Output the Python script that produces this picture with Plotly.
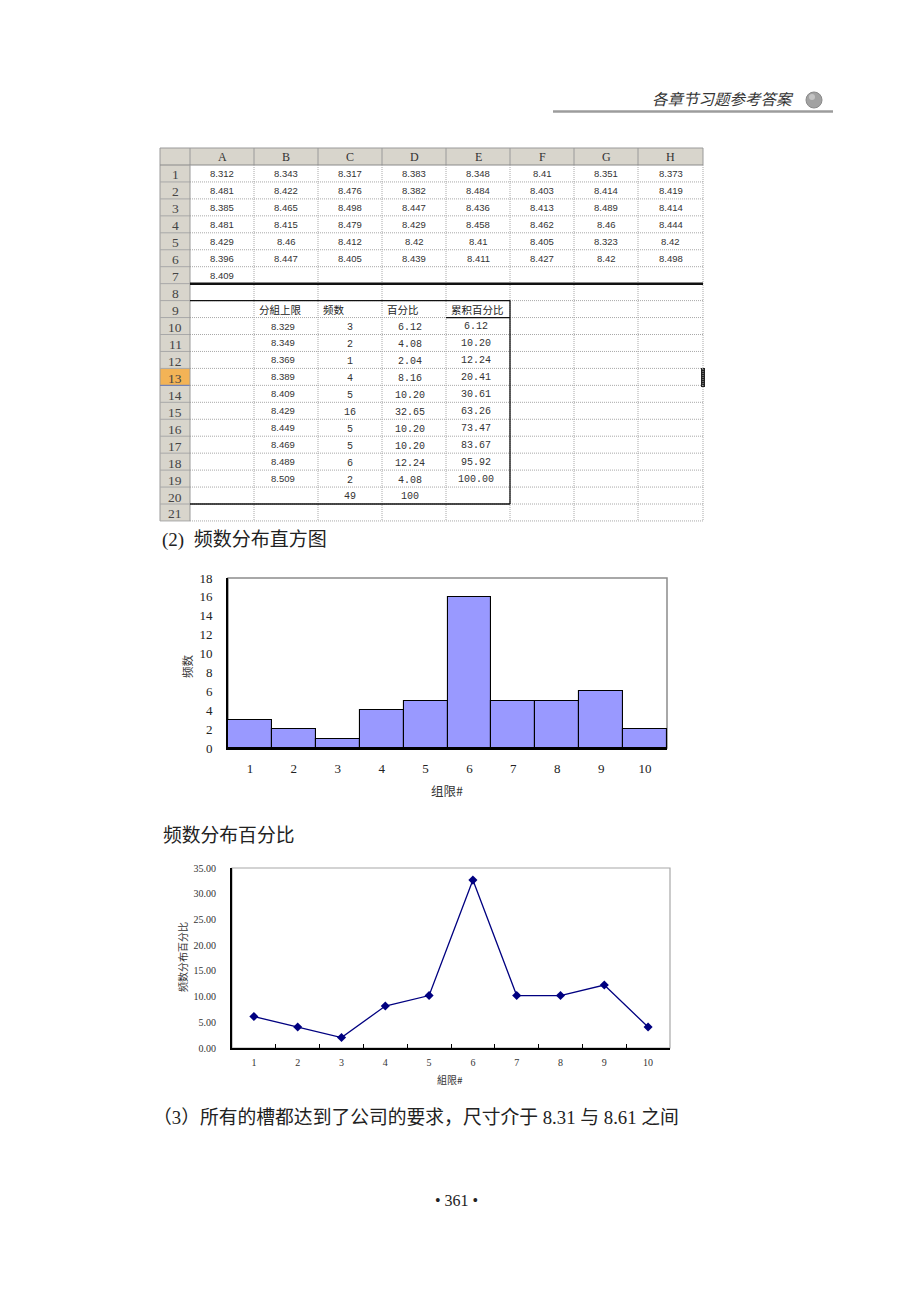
import plotly.graph_objects as go

W, H = 920, 1293

# ---------------- data ----------------
col_letters = ["A", "B", "C", "D", "E", "F", "G", "H"]
raw_r1 = ["8.312", "8.343", "8.317", "8.383", "8.348", "8.41", "8.351", "8.373"]
raw_r2 = ["8.481", "8.422", "8.476", "8.382", "8.484", "8.403", "8.414", "8.419"]
raw_r3 = ["8.385", "8.465", "8.498", "8.447", "8.436", "8.413", "8.489", "8.414"]
raw_r4 = ["8.481", "8.415", "8.479", "8.429", "8.458", "8.462", "8.46", "8.444"]
raw_r5 = ["8.429", "8.46", "8.412", "8.42", "8.41", "8.405", "8.323", "8.42"]
raw_r6 = ["8.396", "8.447", "8.405", "8.439", "8.411", "8.427", "8.42", "8.498"]
raw_r7 = ["8.409"]
raw_rows = [raw_r1, raw_r2, raw_r3, raw_r4, raw_r5, raw_r6, raw_r7]

row9_headers = ["分組上限", "频数", "百分比", "累积百分比"]
group_upper = ["8.329", "8.349", "8.369", "8.389", "8.409", "8.429", "8.449", "8.469", "8.489", "8.509"]
group_no = ["1", "2", "3", "4", "5", "6", "7", "8", "9", "10"]
freq = [3, 2, 1, 4, 5, 16, 5, 5, 6, 2]
pct = [6.12, 4.08, 2.04, 8.16, 10.20, 32.65, 10.20, 10.20, 12.24, 4.08]
cum_pct = [6.12, 10.20, 12.24, 20.41, 30.61, 63.26, 73.47, 83.67, 95.92, 100.00]
total_freq = "49"
total_pct = "100"

hist_yticks = [0, 2, 4, 6, 8, 10, 12, 14, 16, 18]
pct_yticks = [0, 5, 10, 15, 20, 25, 30, 35]

header_text = "各章节习题参考答案"
title_hist = "(2)  频数分布直方图"
title_line = "频数分布百分比"
conclusion = "（3）所有的槽都达到了公司的要求，尺寸介于 8.31 与 8.61 之间"
page_no = "• 361 •"


# ---------------- helpers ----------------
def px(x):
    return x / W


def py(y):
    return 1 - y / H


shapes = []
annos = []


def hline(x0, x1, y, color, width=1, dash=None):
    d = dict(type="line", xref="paper", yref="paper", x0=px(x0), x1=px(x1), y0=py(y), y1=py(y),
             line=dict(color=color, width=width))
    if dash:
        d["line"]["dash"] = dash
    shapes.append(d)


def vline(x, y0, y1, color, width=1, dash=None):
    d = dict(type="line", xref="paper", yref="paper", x0=px(x), x1=px(x), y0=py(y0), y1=py(y1),
             line=dict(color=color, width=width))
    if dash:
        d["line"]["dash"] = dash
    shapes.append(d)


def rect(x0, y0, x1, y1, fill, line=None, lw=0, layer="below"):
    shapes.append(dict(type="rect", xref="paper", yref="paper", x0=px(x0), x1=px(x1), y0=py(y1), y1=py(y0),
                       fillcolor=fill, line=dict(color=line or fill, width=lw), layer=layer))


def text(x, y, s, size, family, color="#222", xanchor="center", angle=0):
    annos.append(dict(x=px(x), y=py(y), xref="paper", yref="paper", text=s, showarrow=False,
                      xanchor=xanchor, yanchor="middle", textangle=angle,
                      font=dict(size=size, family=family, color=color)))


SERIF = "Liberation Serif, Noto Sans CJK SC"
SANS = "Liberation Sans, Noto Sans CJK SC"
MONO = "Liberation Mono, Noto Sans CJK SC"
CJK = "Noto Sans CJK SC"

# ---------------- page header ----------------
text(796, 98, "<i>" + header_text + "</i>", 15.5, CJK, "#333", xanchor="right")
shapes.append(dict(type="circle", xref="paper", yref="paper", x0=px(806), x1=px(822), y0=py(108), y1=py(92),
                   fillcolor="#a2a2a2", line=dict(color="#8a8a8a", width=1)))
shapes.append(dict(type="circle", xref="paper", yref="paper", x0=px(809), x1=px(815), y0=py(100), y1=py(94),
                   fillcolor="#c4c4c4", line=dict(color="#c4c4c4", width=0)))
hline(553, 833, 111.5, "#9c9c9c", 2.5)

# ---------------- spreadsheet ----------------
RH = 16.95
TOP = 165.0
cols = [190, 254, 318, 382, 446, 510, 574, 638, 703]


def rtop(r):
    return TOP + (r - 1) * RH


def rmid(r):
    return TOP + (r - 0.5) * RH


HDR = "#d8d5cc"
rect(160, 148, 703, TOP, HDR)
rect(160, TOP, 190, rtop(22), HDR)
rect(160, rtop(13), 190, rtop(14), "#f3b356")

# header separators
for c in cols:
    vline(c, 148, TOP, "#9a9a9a", 1)
vline(160, 148, rtop(22), "#9a9a9a", 1)
hline(160, 703, 148, "#9a9a9a", 1)
hline(160, 703, TOP, "#8a8a8a", 1)
for r in range(1, 22):
    hline(160, 190, rtop(r + 1), "#a8a8a8", 1)
hline(160, 190, rtop(14), "#6a7ab8", 1)

# dotted grid
GRID_DASH = "1px,1px"
for r in range(1, 22):
    hline(190, 703, rtop(r + 1), "#a8a8a8", 1, GRID_DASH)
for c in cols[1:]:
    vline(c, TOP, rtop(22), "#a8a8a8", 1, GRID_DASH)
vline(190, TOP, rtop(22), "#9a9a9a", 1)

# thick rule under row 7
hline(190, 703, rtop(8), "#111", 2.5)
# box around frequency table
hline(190, 510, rtop(9), "#111", 1.3)
hline(190, 510, rtop(21), "#111", 1.3)
vline(510, rtop(9), rtop(21), "#111", 1.3)
hline(446, 510, rtop(10), "#111", 1.3)
# cursor mark on right edge
rect(701, 368, 705, 387, "#222")

# column letters
for i, L in enumerate(col_letters):
    text((cols[i] + cols[i + 1]) / 2, 157, L, 12, SERIF, "#333")
# row numbers
for r in range(1, 22):
    text(175, rmid(r) + 1.5, str(r), 13.5, SERIF, "#444")

# raw values
for r, row in enumerate(raw_rows, start=1):
    for i, v in enumerate(row):
        text((cols[i] + cols[i + 1]) / 2, rmid(r) + 0.5, v, 9.5, SANS, "#333")

# row 9 headers
for i, h in enumerate(row9_headers):
    text(cols[i + 1] + 3, rmid(9) + 0.5, h, 10.5, CJK, "#222", xanchor="left")

# frequency table rows 10-19
for k in range(len(group_no)):
    r = 10 + k
    text(283, rmid(r), group_upper[k], 9.5, SANS, "#333")
    text(350, rmid(r) + 1.5, str(freq[k]), 10, MONO, "#333")
    text(410, rmid(r) + 1.5, "%.2f" % pct[k], 10, MONO, "#333")
    text(476, rmid(r) + 0.5, "%.2f" % cum_pct[k], 10, MONO, "#333")
text(350, rmid(20) + 0.5, total_freq, 10, MONO, "#333")
text(410, rmid(20) + 0.5, total_pct, 10, MONO, "#333")

# ---------------- body text ----------------
text(160, 540, title_hist, 19, SERIF, "#222", xanchor="left")
text(161, 834, title_line, 18.8, CJK, "#222", xanchor="left")
text(151, 1117, conclusion, 18.8, SERIF, "#222", xanchor="left")
text(456, 1200, page_no, 16, SERIF, "#222")

# axis titles
text(187, 666, "频数", 11.5, CJK, "#333", angle=-90)
text(447, 790, "组限#", 12.5, CJK, "#333")
text(182, 957, "频数分布百分比", 10, CJK, "#333", angle=-90)
text(450, 1079, "組限#", 10, CJK, "#333")

# chart frames (gray top/right)
shapes.append(dict(type="rect", xref="x domain", yref="y domain", x0=0, x1=1, y0=0, y1=1,
                   line=dict(color="#8c8c8c", width=1.5), layer="below"))
shapes.append(dict(type="rect", xref="x2 domain", yref="y2 domain", x0=0, x1=1, y0=0, y1=1,
                   line=dict(color="#a8a8a8", width=1.2), layer="below"))

# ---------------- figure ----------------
fig = go.Figure()
fig.add_trace(go.Bar(x=group_no, y=freq, xaxis="x", yaxis="y", showlegend=False,
                     marker=dict(color="#9999ff", line=dict(color="#000000", width=1.1)),
                     hoverinfo="skip"))
fig.add_trace(go.Scatter(x=group_no, y=pct, xaxis="x2", yaxis="y2", mode="lines+markers", showlegend=False,
                         line=dict(color="#000080", width=1.3),
                         marker=dict(symbol="diamond", size=7, color="#000080"),
                         hoverinfo="skip"))

tick_serif = dict(family="Liberation Serif", size=13, color="#222")
tick_small = dict(family="Liberation Serif", size=10, color="#333")

fig.update_layout(
    template="none",
    width=W, height=H, autosize=False,
    margin=dict(l=0, r=0, t=0, b=0, pad=0, autoexpand=False),
    paper_bgcolor="white", plot_bgcolor="rgba(0,0,0,0)",
    bargap=0, showlegend=False,
    xaxis=dict(domain=[px(228), px(667)], anchor="y", type="category", range=[-0.5, 9.5],
               automargin=False,
               showline=True, linecolor="#000", linewidth=2, ticks="", showgrid=False, zeroline=False,
               tickfont=tick_serif, ticklabelstandoff=7, fixedrange=True),
    yaxis=dict(domain=[py(748), py(578)], anchor="x", range=[0, 18], tickvals=hist_yticks,
               automargin=False,
               showline=True, linecolor="#000", linewidth=2, ticks="", showgrid=False, zeroline=False,
               tickfont=tick_serif, ticklabelstandoff=11, fixedrange=True),
    xaxis2=dict(domain=[px(232), px(670)], anchor="y2", type="category", range=[-0.5, 9.5],
                automargin=False,
                tickson="boundaries", ticks="inside", ticklen=4, tickcolor="#000", tickwidth=1,
                showline=True, linecolor="#000", linewidth=2, showgrid=False, zeroline=False,
                tickfont=tick_small, ticklabelstandoff=4, fixedrange=True),
    yaxis2=dict(domain=[py(1048), py(868)], anchor="x2", range=[0, 35], tickvals=pct_yticks,
                automargin=False,
                tickformat=".2f", showline=True, linecolor="#000", linewidth=2, ticks="",
                showgrid=False, zeroline=False, tickfont=tick_small, ticklabelstandoff=12,
                fixedrange=True),
    shapes=shapes,
    annotations=annos,
)

fig.write_html("out.html", config={"displayModeBar": False},
               post_script="document.body.style.margin='0';document.body.style.padding='0';")
